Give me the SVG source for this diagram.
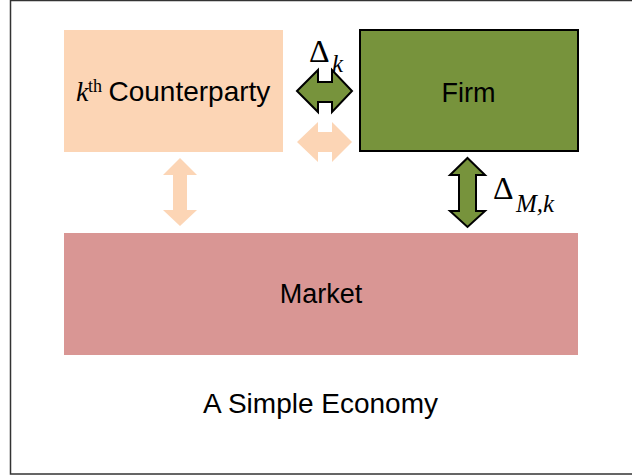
<svg xmlns="http://www.w3.org/2000/svg" width="632" height="476" viewBox="0 0 632 476">
<style>
.sans{font-family:"Liberation Sans",Arial,sans-serif;fill:#000}
.serif{font-family:"Liberation Serif","Times New Roman",serif;fill:#000}
.peach{fill:#FCD5B5}
.green{fill:#77933C;stroke:#000;stroke-width:2}
</style>
<rect x="0" y="0" width="632" height="476" fill="#fff"/>
<rect x="10.5" y="0.5" width="700" height="473.5" fill="none" stroke="#333" stroke-width="1.5"/>
<g id="counterparty">
<rect class="peach" x="64" y="30" width="219" height="122"/>
<text x="76" y="101" class="serif" font-size="28" font-style="italic">k</text>
<text x="88" y="92" class="serif" font-size="18">th</text>
<text x="108.5" y="101" class="sans" font-size="28">Counterparty</text>
</g>
<g id="firm">
<rect class="green" x="360" y="30" width="218" height="121"/>
<text x="468.5" y="102" class="sans" font-size="27" text-anchor="middle">Firm</text>
</g>
<g id="market">
<rect x="64" y="233" width="514" height="122" fill="#D99694"/>
<text x="321" y="303" class="sans" font-size="27" text-anchor="middle">Market</text>
</g>
<g id="caption">
<text x="320.5" y="413" class="sans" font-size="28" text-anchor="middle">A Simple Economy</text>
</g>
<g id="connectors">
<path class="green" d="M297,91 L318,70 L318,82 L332,82 L332,70 L352,91 L332,112 L332,102 L318,102 L318,112 Z"/>
<path class="peach" d="M297,142 L318,122 L318,132 L332,132 L332,122 L352,142 L332,162 L332,152 L318,152 L318,162 Z"/>
<path class="peach" d="M180,158 L197,175 L187,175 L187,210 L197,210 L180,226 L163,210 L173,210 L173,175 L163,175 Z"/>
<path class="green" d="M467.5,158 L485,175 L476,175 L476,211 L485,211 L467.5,227 L450,211 L459,211 L459,175 L450,175 Z"/>
<text x="309" y="62" class="serif" font-size="32">Δ</text>
<text x="332" y="72" class="serif" font-size="25" font-style="italic">k</text>
<text x="493" y="199" class="serif" font-size="32">Δ</text>
<text x="516" y="212" class="serif" font-size="25" font-style="italic">M,k</text>
</g>
</svg>
